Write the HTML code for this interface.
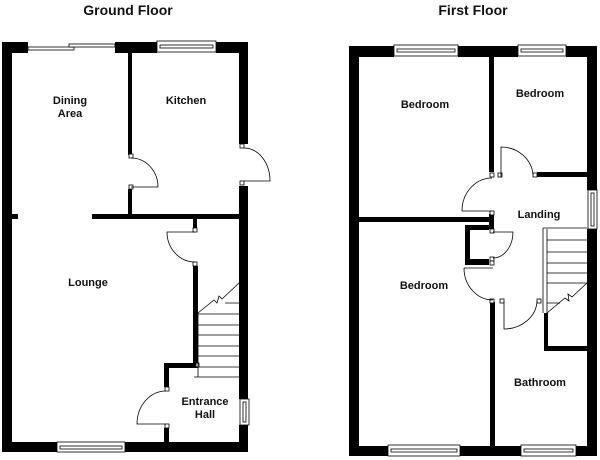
<!DOCTYPE html>
<html><head><meta charset="utf-8"><style>
html,body{margin:0;padding:0;background:#fff;}
svg{display:block;}
text{font-family:"Liberation Sans",Arial,sans-serif;font-weight:bold;fill:#111;}
</style></head><body>
<svg width="600" height="460" viewBox="0 0 600 460" xmlns="http://www.w3.org/2000/svg">
<text x="128" y="15" font-size="14" text-anchor="middle">Ground Floor</text>
<text x="473" y="15" font-size="14" text-anchor="middle">First Floor</text>

<g fill="#000">
<!-- Ground floor walls -->
<rect x="2" y="42" width="10" height="410"/>
<rect x="2" y="42" width="26" height="11"/>
<rect x="115" y="42" width="42" height="11"/>
<rect x="216" y="42" width="32" height="11"/>
<rect x="239" y="42" width="9" height="102"/>
<rect x="239" y="186" width="9" height="213"/>
<rect x="239" y="425" width="9" height="27"/>
<rect x="2" y="442" width="55" height="10"/>
<rect x="125" y="442" width="123" height="10"/>
<rect x="128" y="53" width="4" height="102"/>
<rect x="128" y="189" width="4" height="27"/>
<rect x="92" y="214" width="147" height="5"/>
<rect x="12" y="214" width="6" height="5"/>
<rect x="193" y="219" width="4" height="10"/>
<rect x="193" y="266" width="5" height="101"/>
<rect x="164" y="363" width="34" height="5"/>
<rect x="164" y="363" width="5" height="24"/>
<rect x="164" y="428" width="5" height="14"/>

<!-- First floor walls -->
<rect x="349" y="46" width="10" height="410"/>
<rect x="349" y="46" width="45" height="11"/>
<rect x="458" y="46" width="60" height="11"/>
<rect x="566" y="46" width="31" height="11"/>
<rect x="587" y="46" width="10" height="144"/>
<rect x="587" y="229" width="10" height="227"/>
<rect x="349" y="446" width="39" height="10"/>
<rect x="460" y="446" width="61" height="10"/>
<rect x="576" y="446" width="21" height="10"/>
<rect x="489" y="57" width="5" height="115"/>
<rect x="537" y="172" width="50" height="5"/>
<rect x="359" y="217" width="135" height="5"/>
<rect x="489" y="214" width="5" height="15"/>
<rect x="465" y="225" width="5" height="40"/>
<rect x="465" y="225" width="24" height="5"/>
<rect x="465" y="259" width="24" height="6"/>
<rect x="490" y="302" width="5" height="144"/>
<rect x="544" y="313" width="4" height="38"/>
<rect x="544" y="346" width="43" height="5"/>
</g>

<g fill="#fff" stroke="#000" stroke-width="0.8">
<!-- posts -->
<rect x="129" y="154" width="4" height="4"/><rect x="129" y="185" width="4" height="4"/>
<rect x="240" y="144" width="4" height="4"/><rect x="240" y="181" width="4" height="4"/>
<rect x="193" y="228" width="4" height="4"/><rect x="193" y="262" width="4" height="4"/>
<rect x="165" y="387" width="4" height="4"/><rect x="165" y="424" width="4" height="4"/>
<rect x="196" y="363" width="3" height="4"/>
<rect x="490" y="173" width="4" height="4"/><rect x="498" y="173" width="4" height="4"/>
<rect x="533" y="173" width="4" height="4"/>
<rect x="490" y="211" width="4" height="4"/><rect x="490" y="229" width="4" height="4"/>
<rect x="490" y="257" width="4" height="4"/><rect x="490" y="261" width="4" height="4"/>
<rect x="490" y="299" width="4" height="4"/><rect x="500" y="299" width="4" height="4"/>
<rect x="537" y="299" width="4" height="4"/>
<!-- windows -->
<rect x="157" y="41" width="59" height="11"/><rect x="160" y="45" width="53" height="3"/>
<rect x="57" y="442" width="68" height="10"/><rect x="60" y="446" width="62" height="3"/>
<rect x="240" y="399" width="9" height="26"/><rect x="243" y="402" width="3" height="20"/>
<rect x="394" y="45" width="64" height="11"/><rect x="397" y="49" width="58" height="3"/>
<rect x="518" y="45" width="48" height="11"/><rect x="521" y="49" width="42" height="3"/>
<rect x="388" y="445" width="72" height="11"/><rect x="391" y="449" width="66" height="3"/>
<rect x="521" y="445" width="55" height="11"/><rect x="524" y="449" width="49" height="3"/>
<rect x="588" y="190" width="9" height="39"/><rect x="591" y="193" width="3" height="33"/>
<!-- sliding door -->
<rect x="28" y="47" width="46" height="3"/>
<rect x="69" y="44" width="46" height="3"/>
</g>

<g fill="none" stroke="#000" stroke-width="0.8">
<!-- ground floor doors -->
<path d="M131,158 A27 29 0 0 1 158,187 L131,187"/>
<path d="M244,148 A26 33 0 0 1 270,181 L244,181"/>
<path d="M195,232 L167,232 A28 30 0 0 0 195,262"/>
<path d="M166,391 A29 33 0 0 0 137,424 L166,424"/>
<!-- ground stairs -->
<path d="M194,377 L239,377 M198,313 L198,377 M198,314 L239,314 M198,325 L239,325 M198,335 L239,335 M198,346 L239,346 M198,356 L239,356 M198,367 L239,367"/>
<path d="M198,313 L214,300 L217,303 L219,296 L222,299 L239,283 M225,303 L239,303"/>
<!-- first floor doors -->
<path d="M501,177 L501,147 A32 30 0 0 1 533,175"/>
<path d="M492,178 A30 33 0 0 0 462,211 L492,211"/>
<path d="M493,232 L513,232 A20 26 0 0 1 493,258"/>
<path d="M464,268 L493,268 M464,268 A29 32 0 0 0 493,300"/>
<path d="M504,301 L504,329 A33 29 0 0 0 537,301"/>
<!-- first floor stairs -->
<path d="M543,228 L543,313 M543,228 L547,228 M547,229 L547,313 M547,228 L587,228 M547,240 L587,240 M547,252 L587,252 M547,263 L587,263 M547,273 L587,273 M547,283 L587,283"/>
<path d="M547,313 L565,298 L569,301 L568,294 L572,297 L587,283 M547,303 L560,303"/>
</g>

<g font-size="11" text-anchor="middle">
<text x="70" y="104">Dining</text>
<text x="70" y="117">Area</text>
<text x="186" y="104">Kitchen</text>
<text x="88" y="286">Lounge</text>
<text x="205" y="405">Entrance</text>
<text x="205" y="418">Hall</text>
<text x="425" y="108">Bedroom</text>
<text x="540" y="97">Bedroom</text>
<text x="539" y="218">Landing</text>
<text x="424" y="289">Bedroom</text>
<text x="540" y="386">Bathroom</text>
</g>
</svg>
</body></html>
